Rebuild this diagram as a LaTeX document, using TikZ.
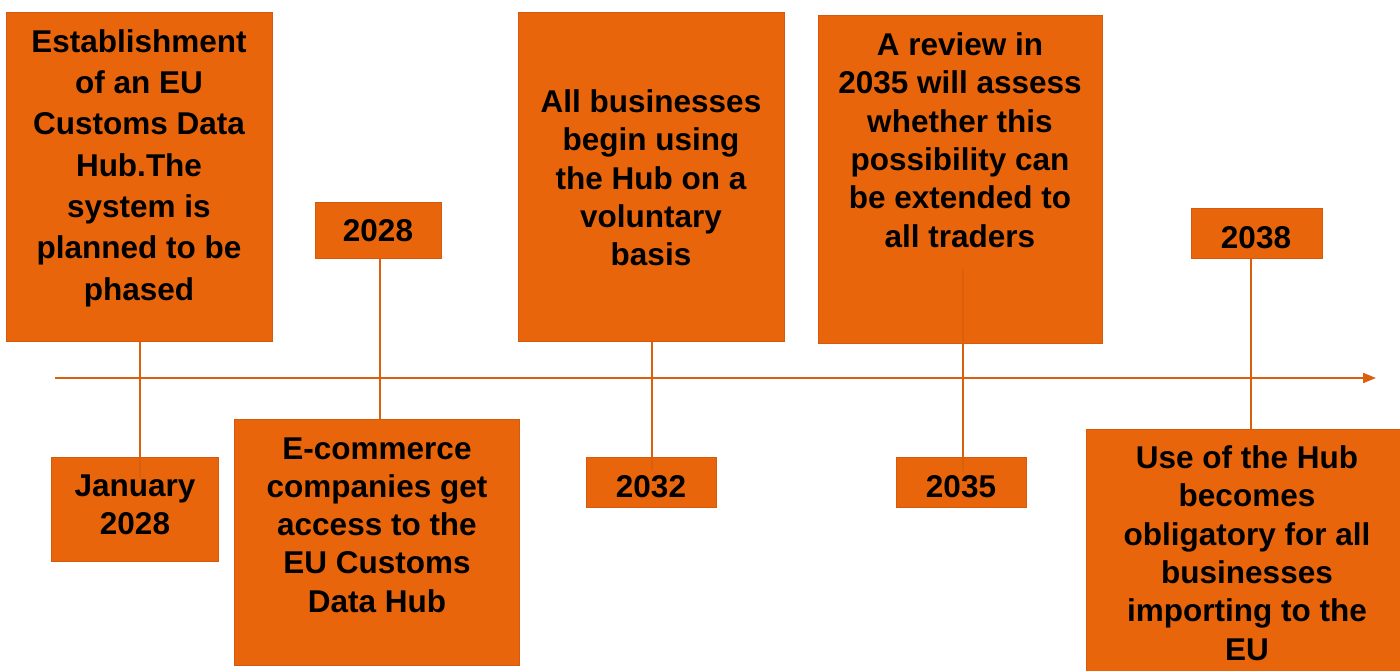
\documentclass[tikz,border=0pt]{standalone}
\usepackage{fontspec}
\setmainfont{Liberation Sans}
\usetikzlibrary{arrows.meta}
\definecolor{boxfill}{RGB}{232,101,12}
\definecolor{boxline}{RGB}{214,90,12}
\definecolor{conn}{RGB}{218,96,14}
\tikzset{
  box/.style={draw=boxline,fill=boxfill,line width=1.3pt,inner sep=0pt,anchor=north west},
  txt/.style={font=\bfseries\fontsize{31.5}{38.3}\selectfont,align=center,inner sep=0pt,text=black},
  txtwide/.style={font=\bfseries\fontsize{31.5}{41.3}\selectfont,align=center,inner sep=0pt,text=black},
  conn/.style={draw=conn,line width=2pt},
}
\begin{document}
\begin{tikzpicture}[x=1pt,y=-1pt]
\useasboundingbox (0,0) rectangle (1400,671);
% boxes
\node[box,minimum width=266,minimum height=329] (b1) at (6,12) {};
\node[box,minimum width=126,minimum height=56] (b2) at (315,202) {};
\node[box,minimum width=167,minimum height=104] (b3) at (51,457) {};
\node[box,minimum width=285,minimum height=246] (b4) at (234,419) {};
\node[box,minimum width=266,minimum height=329] (b5) at (518,12) {};
\node[box,minimum width=130,minimum height=50] (b6) at (586,457) {};
\node[box,minimum width=284,minimum height=328] (b7) at (818,15) {};
\node[box,minimum width=130,minimum height=50] (b8) at (896,457) {};
\node[box,minimum width=131,minimum height=50] (b9) at (1191,208) {};
\node[box,minimum width=322,minimum height=260] (b10) at (1086,429) {};
% timeline
\coordinate (tl0) at (55,378);
\coordinate (tl1) at (1376,378);
\draw[conn,-{Triangle[length=13pt,width=10pt]}] (tl0) -- (tl1);
% connectors
\draw[conn] (b1.south) -- ([yshift=-21]b1.south |- b3.north);
\draw[conn] ([xshift=1]b2.south) -- ([xshift=1]b2.south |- b4.north);
\draw[conn] (b5.south) -- ([yshift=-14]b5.south |- b6.north);
\draw[conn] ([xshift=2,yshift=75]b7.south) -- ([xshift=2,yshift=-14]b7.south |- b8.north);
\draw[conn] ([xshift=-6]b9.south) -- ([xshift=-6]b9.south |- b10.north);
% texts
\node[txtwide] (t1) at (139,168) {Establishment\\of an EU\\Customs Data\\Hub.The\\system is\\planned to be\\phased};
\node[txt] (t2) at (378,231) {2028};
\node[txt] (t3) at (135,505) {January\\2028};
\node[txt] (t4) at (377,525) {E-commerce\\companies get\\access to the\\EU Customs\\Data Hub};
\node[txt] (t5) at (651,178) {All businesses\\begin using\\the Hub on a\\voluntary\\basis};
\node[txt] (t6) at (651,487) {2032};
\node[txt] (t7) at (960,140) {A review in\\2035 will assess\\whether this\\possibility can\\be extended to\\all traders};
\node[txt] (t8) at (961,487) {2035};
\node[txt] (t9) at (1256,238) {2038};
\node[txt] (t10) at (1247,553) {Use of the Hub\\becomes\\obligatory for all\\businesses\\importing to the\\EU};
\end{tikzpicture}
\end{document}
